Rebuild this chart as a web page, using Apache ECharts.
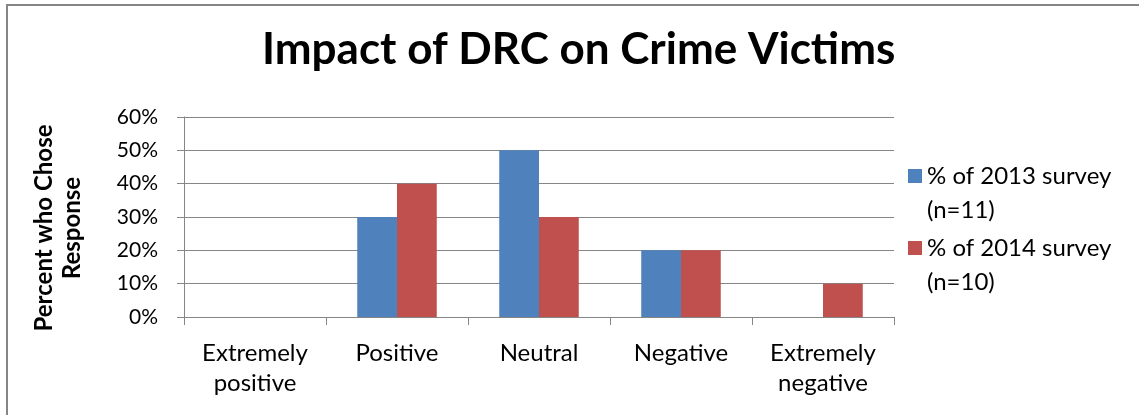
<!DOCTYPE html>
<html>
<head>
<meta charset="utf-8">
<script src="https://cdn.jsdelivr.net/npm/echarts@6/dist/echarts.min.js"></script>
<style>
  html, body { margin: 0; padding: 0; background: #fff; }
  #chart { width: 1139px; height: 415px; }
</style>
</head>
<body>
<div id="chart"></div>
<script>
// Survey responses: share of respondents choosing each impact level
const categories = ['Extremely\npositive', 'Positive', 'Neutral', 'Negative', 'Extremely\nnegative'];
const seriesNames = ['% of 2013 survey\n(n=11)', '% of 2014 survey\n(n=10)'];
const survey2013 = [0, 30, 50, 20, 0];
const survey2014 = [0, 40, 30, 20, 10];
const yTicks = { min: 0, max: 60, interval: 10 };

const FONT = 'Lato, "Open Sans", sans-serif';
const AXIS_GRAY = '#868686';

const chart = echarts.init(document.getElementById('chart'), null, { renderer: 'canvas' });

chart.setOption({
  backgroundColor: '#fff',
  animation: false,
  title: {
    text: 'Impact of DRC on Crime Victims',
    left: 262,
    top: 28,
    padding: 0,
    textStyle: { fontFamily: FONT, fontWeight: 'bold', fontSize: 44, color: '#000' }
  },
  graphic: [{
    type: 'rect',
    shape: { x: 7, y: 5, width: 1200, height: 500 },
    style: { fill: 'none', stroke: AXIS_GRAY, lineWidth: 2 },
    silent: true
  }],
  legend: {
    orient: 'vertical',
    left: 908,
    top: 125,
    padding: 0,
    itemWidth: 14,
    itemHeight: 14,
    itemGap: -30,
    icon: 'rect',
    data: seriesNames,
    // leading blank line keeps the swatch level with the first text line
    formatter: name => '\n' + name,
    textStyle: {
      fontFamily: FONT, fontSize: 24, color: '#000', lineHeight: 34
    }
  },
  grid: { left: 184, right: 245, top: 117, bottom: 98, containLabel: false },
  xAxis: {
    type: 'category',
    data: categories,
    axisLine: { lineStyle: { color: AXIS_GRAY, width: 1 } },
    axisTick: { show: true, length: 8, lineStyle: { color: AXIS_GRAY } },
    axisLabel: {
      fontFamily: FONT, fontSize: 24, color: '#000',
      lineHeight: 30, margin: 21, interval: 0
    }
  },
  yAxis: {
    type: 'value',
    min: yTicks.min,
    max: yTicks.max,
    interval: yTicks.interval,
    name: 'Percent who Chose\nResponse',
    nameLocation: 'middle',
    nameRotate: 90,
    nameGap: 98,
    nameTextStyle: {
      fontFamily: FONT, fontSize: 24, fontWeight: 'bold', color: '#000',
      lineHeight: 28, padding: [0, 22, 0, 0]
    },
    axisLine: { show: true, lineStyle: { color: AXIS_GRAY, width: 1 } },
    axisTick: { show: true, length: 7, lineStyle: { color: AXIS_GRAY } },
    axisLabel: {
      fontFamily: FONT, fontSize: 21, color: '#000', margin: 26,
      formatter: '{value}%'
    },
    splitLine: { show: true, lineStyle: { color: AXIS_GRAY, width: 1 } }
  },
  series: [
    {
      name: seriesNames[0],
      type: 'bar',
      data: survey2013,
      itemStyle: { color: '#4F81BD' },
      barGap: '0%',
      barCategoryGap: '44%'
    },
    {
      name: seriesNames[1],
      type: 'bar',
      data: survey2014,
      itemStyle: { color: '#C0504D' },
      barGap: '0%',
      barCategoryGap: '44%'
    }
  ]
});
</script>
</body>
</html>
